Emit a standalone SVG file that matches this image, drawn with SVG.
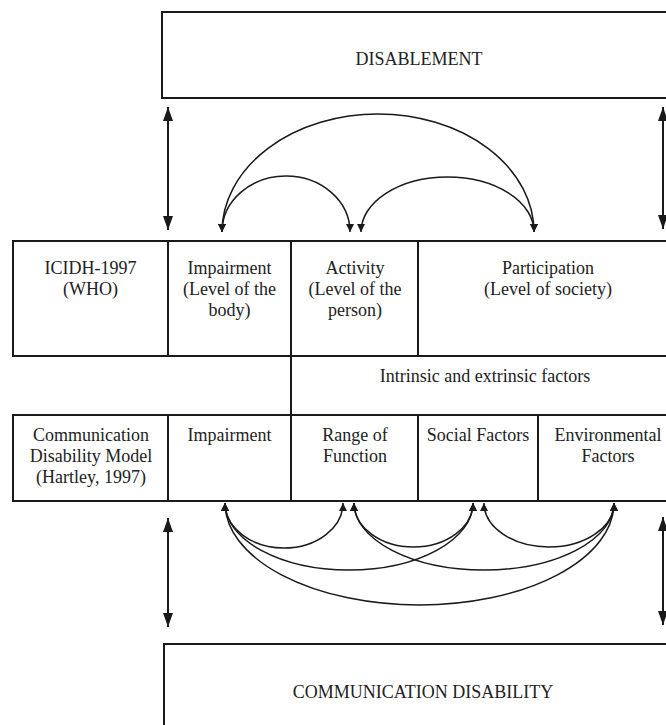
<svg xmlns="http://www.w3.org/2000/svg" width="666" height="725" viewBox="0 0 666 725">
<style>
.box{fill:none;stroke:#1a1a1a;stroke-width:2}
.div{stroke:#1a1a1a;stroke-width:2}
.t{font-family:"Liberation Serif","Times New Roman",serif;font-size:18px;fill:#222;text-anchor:middle}
.arc{fill:none;stroke:#1a1a1a;stroke-width:1.5}
.va{stroke:#1a1a1a;stroke-width:2}
</style>
<defs>
<marker id="sm" markerUnits="userSpaceOnUse" markerWidth="9" markerHeight="9" refX="8" refY="4" orient="auto-start-reverse"><path d="M0,0 L8,4 L0,8 z" fill="#1a1a1a"/></marker>
<marker id="lg" markerUnits="userSpaceOnUse" markerWidth="15" markerHeight="11" refX="14" refY="5" orient="auto-start-reverse"><path d="M0,0 L14,5 L0,10 z" fill="#1a1a1a"/></marker>
</defs>
<rect width="666" height="725" fill="#fff"/>

<g id="disablement">
<rect class="box" x="162" y="12" width="516" height="86"/>
<text class="t" x="419" y="65">DISABLEMENT</text>
</g>

<g id="icidh-row">
<rect class="box" x="13" y="241" width="665" height="115"/>
<line class="div" x1="168" y1="241" x2="168" y2="356"/>
<line class="div" x1="418" y1="241" x2="418" y2="356"/>
</g>
<g id="icidh">
<text class="t" x="90.5" y="274">ICIDH-1997</text>
<text class="t" x="90.5" y="295">(WHO)</text>
</g>
<g id="impairment1">
<text class="t" x="229.5" y="274">Impairment</text>
<text class="t" x="229.5" y="295">(Level of the</text>
<text class="t" x="229.5" y="316">body)</text>
</g>
<g id="activity">
<text class="t" x="355" y="274">Activity</text>
<text class="t" x="355" y="295">(Level of the</text>
<text class="t" x="355" y="316">person)</text>
</g>
<g id="participation">
<text class="t" x="548" y="274">Participation</text>
<text class="t" x="548" y="295">(Level of society)</text>
</g>

<g id="factors">
<line class="div" x1="291" y1="241" x2="291" y2="415"/>
<text class="t" x="485" y="382">Intrinsic and extrinsic factors</text>
</g>

<g id="cdm-row">
<rect class="box" x="13" y="415" width="665" height="86"/>
<line class="div" x1="168" y1="415" x2="168" y2="501"/>
<line class="div" x1="291" y1="415" x2="291" y2="501"/>
<line class="div" x1="418" y1="415" x2="418" y2="501"/>
<line class="div" x1="538" y1="415" x2="538" y2="501"/>
</g>
<g id="cdm">
<text class="t" x="91" y="441">Communication</text>
<text class="t" x="91" y="462">Disability Model</text>
<text class="t" x="91" y="483">(Hartley, 1997)</text>
</g>
<g id="impairment2"><text class="t" x="229.5" y="441">Impairment</text></g>
<g id="range">
<text class="t" x="355" y="441">Range of</text>
<text class="t" x="355" y="462">Function</text>
</g>
<g id="social"><text class="t" x="478" y="441">Social Factors</text></g>
<g id="environmental">
<text class="t" x="608" y="441">Environmental</text>
<text class="t" x="608" y="462">Factors</text>
</g>

<g id="comm-disability">
<rect class="box" x="164" y="644" width="514" height="100"/>
<text class="t" x="423" y="698">COMMUNICATION DISABILITY</text>
</g>

<g id="connectors">
<line class="va" x1="168" y1="107" x2="168" y2="230" marker-start="url(#lg)" marker-end="url(#lg)"/>
<line class="va" x1="663" y1="107" x2="663" y2="229" marker-start="url(#lg)" marker-end="url(#lg)"/>
<line class="va" x1="168" y1="518" x2="168" y2="627" marker-start="url(#lg)" marker-end="url(#lg)"/>
<line class="va" x1="663" y1="517" x2="663" y2="625" marker-start="url(#lg)" marker-end="url(#lg)"/>

<path class="arc" d="M222 232 A156 118 0 0 1 534 232" marker-start="url(#sm)" marker-end="url(#sm)"/>
<path class="arc" d="M222 232 A64 56 0 0 1 350 232" marker-start="url(#sm)" marker-end="url(#sm)"/>
<path class="arc" d="M361 232 A86.5 55 0 0 1 534 232" marker-start="url(#sm)" marker-end="url(#sm)"/>

<path class="arc" d="M225 503 A59 45 0 0 0 343 503" marker-start="url(#sm)" marker-end="url(#sm)"/>
<path class="arc" d="M354 503 A59.5 44 0 0 0 473 503" marker-start="url(#sm)" marker-end="url(#sm)"/>
<path class="arc" d="M484 503 A65 44 0 0 0 614 503" marker-start="url(#sm)" marker-end="url(#sm)"/>
<path class="arc" d="M225 503 A124 67 0 0 0 473 503" marker-start="url(#sm)" marker-end="url(#sm)"/>
<path class="arc" d="M354 503 A130 67 0 0 0 614 503" marker-start="url(#sm)" marker-end="url(#sm)"/>
<path class="arc" d="M225 503 A194.5 102 0 0 0 614 503" marker-start="url(#sm)" marker-end="url(#sm)"/>
</g>
</svg>
